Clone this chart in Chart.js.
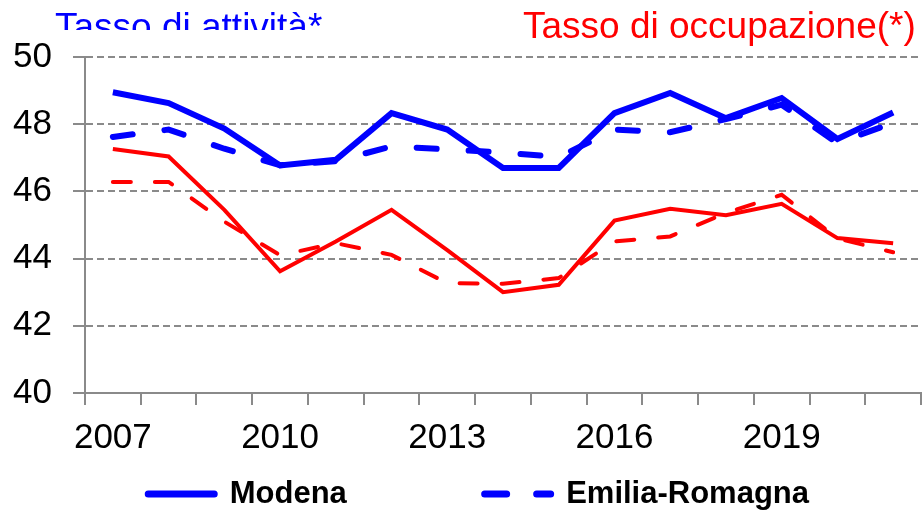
<!DOCTYPE html>
<html>
<head>
<meta charset="utf-8">
<script src="https://cdn.jsdelivr.net/npm/chart.js@4/dist/chart.umd.min.js"></script>
<style>
  html, body { margin: 0; padding: 0; background: #fff; }
  #wrap { width: 924px; height: 513px; position: relative; }
</style>
</head>
<body>
<div id="wrap"><canvas id="tassiChart"></canvas></div>
<script>
const years = ["2007", "2008", "2009", "2010", "2011", "2012", "2013", "2014",
  "2015", "2016", "2017", "2018", "2019", "2020", "2021"];
const shownYears = ["2007", "2010", "2013", "2016", "2019"];

// tasso di attività
const attivitaModena = [48.95, 48.63, 47.87, 46.77, 46.94, 48.33, 47.84, 46.70,
  46.70, 48.33, 48.93, 48.18, 48.78, 47.56, 48.35];
const attivitaER = [47.62, 47.84, 47.27, 46.78, 46.90, 47.34, 47.25, 47.16,
  47.02, 47.84, 47.76, 48.15, 48.58, 47.44, 48.04];

// tasso di occupazione
const occupazioneModena = [47.26, 47.04, 45.45, 43.62, 44.51, 45.45, 44.25, 43.00,
  43.22, 45.13, 45.48, 45.29, 45.63, 44.61, 44.46];
const occupazioneER = [46.28, 46.28, 45.10, 44.10, 44.46, 44.11, 43.27, 43.25,
  43.42, 44.51, 44.66, 45.36, 45.90, 44.60, 44.19];

const BLUE = "#0000ff";
const RED = "#ff0000";
const GREY = "#8a8a8a";
const FONT = "'Liberation Sans', Arial, sans-serif";

// titles above the plot (the blue one is cut at the bottom, as in the source)
const titlesPlugin = {
  id: "titles",
  afterDraw(chart) {
    const ctx = chart.ctx;
    ctx.save();
    ctx.font = "37px " + FONT;
    ctx.textBaseline = "alphabetic";
    ctx.textAlign = "left";
    ctx.fillStyle = RED;
    ctx.fillText("Tasso di occupazione(*)", 523, 38);
    ctx.beginPath();
    ctx.rect(0, 0, 400, 30);
    ctx.clip();
    ctx.fillStyle = BLUE;
    ctx.fillText("Tasso di attività*", 55, 39);
    ctx.restore();
  }
};

new Chart(document.getElementById("tassiChart"), {
  type: "line",
  data: {
    labels: years,
    datasets: [
      {
        label: "Modena",
        data: attivitaModena,
        borderColor: BLUE,
        backgroundColor: BLUE,
        borderWidth: 6,
        order: 1
      },
      {
        label: "Emilia-Romagna",
        data: attivitaER,
        borderColor: BLUE,
        backgroundColor: BLUE,
        borderWidth: 6,
        borderDash: [20, 32],
        borderCapStyle: "round",
        order: 0
      },
      {
        label: "Modena occupazione",
        data: occupazioneModena,
        borderColor: RED,
        backgroundColor: RED,
        borderWidth: 4,
        order: 1
      },
      {
        label: "Emilia-Romagna occupazione",
        data: occupazioneER,
        borderColor: RED,
        backgroundColor: RED,
        borderWidth: 4,
        borderDash: [18, 24],
        borderCapStyle: "round",
        order: 0
      }
    ]
  },
  options: {
    responsive: true,
    maintainAspectRatio: false,
    animation: false,
    elements: {
      point: { radius: 0, hoverRadius: 0 },
      line: { tension: 0 }
    },
    layout: { padding: { top: 57, right: 3, bottom: -6.5, left: 10 } },
    plugins: {
      tooltip: { enabled: false },
      legend: {
        position: "bottom",
        align: "end",
        labels: {
          usePointStyle: true,
          pointStyle: "line",
          pointStyleWidth: 66,
          padding: 0,
          color: "#000",
          font: { family: FONT, size: 31, weight: "bold" },
          // only the two blue entries are shown; trailing spaces keep the gap
          generateLabels(chart) {
            return [
              {
                text: "Modena" + " ".repeat(16),
                strokeStyle: BLUE,
                fillStyle: BLUE,
                lineWidth: 7,
                lineCap: "round",
                lineDash: [],
                pointStyle: "line",
                datasetIndex: 0
              },
              {
                text: "Emilia-Romagna" + " ".repeat(13),
                strokeStyle: BLUE,
                fillStyle: BLUE,
                lineWidth: 7,
                lineCap: "round",
                lineDash: [22, 30],
                pointStyle: "line",
                datasetIndex: 1
              }
            ];
          }
        }
      }
    },
    scales: {
      x: {
        offset: true,
        afterFit: (scale) => { scale.height = 85.5; },
        grid: {
          offset: true,
          drawOnChartArea: false,
          drawTicks: true,
          tickLength: 12,
          color: GREY,
          lineWidth: 2
        },
        border: { display: true, color: GREY, width: 2 },
        ticks: {
          autoSkip: false,
          maxRotation: 0,
          padding: 12,
          color: "#000",
          font: { family: FONT, size: 35 },
          callback: function (value, index) {
            const lab = years[index];
            return shownYears.includes(lab) ? lab : "";
          }
        }
      },
      y: {
        min: 40,
        max: 50,
        afterFit: (scale) => { scale.width = 75; },
        grid: {
          color: GREY,
          lineWidth: 2,
          tickLength: 12,
          tickColor: GREY,
          tickBorderDash: []
        },
        border: { display: true, color: GREY, width: 2, dash: [7, 4] },
        ticks: {
          stepSize: 2,
          padding: 21,
          color: "#000",
          font: { family: FONT, size: 35 }
        }
      }
    }
  },
  plugins: [titlesPlugin]
});
</script>
</body>
</html>
